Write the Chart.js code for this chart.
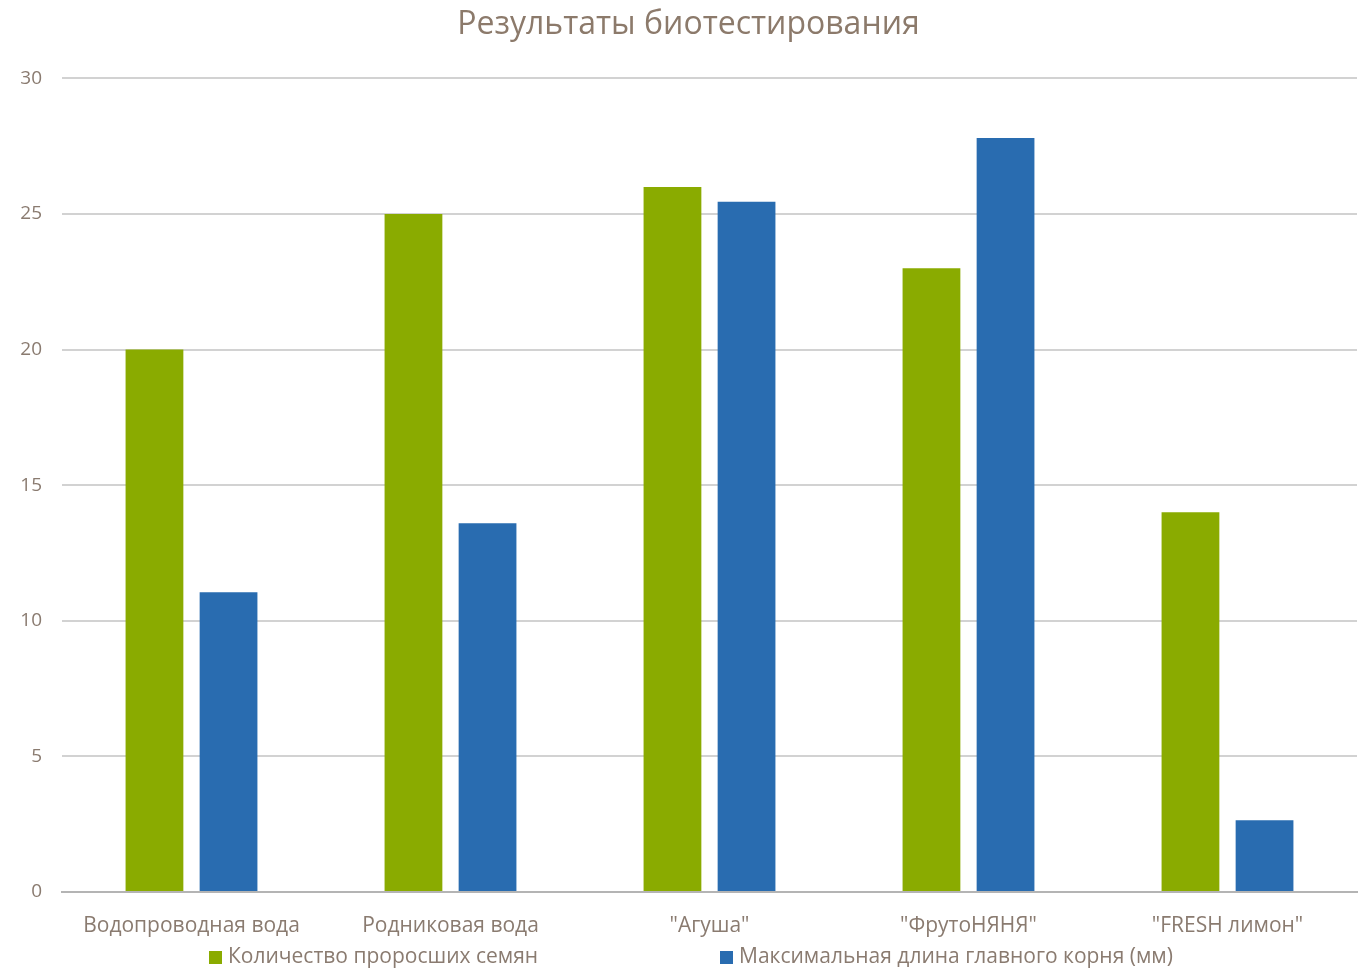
<!DOCTYPE html>
<html><head><meta charset="utf-8">
<script src="https://cdn.jsdelivr.net/npm/chart.js@4.4.0/dist/chart.umd.min.js"></script>
<style>html,body{margin:0;padding:0;background:#fff}#wrap{width:1363px;height:969px}</style>
</head><body><div id="wrap"><canvas id="c"></canvas></div>
<script>
const categories = ['Водопроводная вода', 'Родниковая вода', '"Агуша"', '"ФрутоНЯНЯ"', '"FRESH лимон"'];
const seedsSprouted = [20, 25, 26, 23, 14];
const rootLength = [11.05, 13.6, 25.45, 27.8, 2.65];
const seriesNames = ['Количество проросших семян', 'Максимальная длина главного корня (мм)'];
const yTicks = [0, 5, 10, 15, 20, 25, 30];
const titleText = 'Результаты биотестирования';

const FONT = '"Open Sans", "Noto Sans", sans-serif';
const TEXT = '#8a7b70';
const colors = ['#8aab00', '#296cb0'];

const legendPlugin = {
  id: 'customLegend',
  afterDraw(chart) {
    const ctx = chart.ctx;
    ctx.save();
    ctx.font = '21px ' + FONT;
    ctx.textBaseline = 'middle';
    const y = 957;
    const xs = [209, 720];
    chart.data.datasets.forEach((ds, i) => {
      ctx.fillStyle = ds.backgroundColor;
      ctx.fillRect(xs[i], y - 6, 13, 13);
      ctx.fillStyle = TEXT;
      ctx.textAlign = 'left';
      ctx.fillText(ds.label, xs[i] + 19, y);
    });
    ctx.restore();
  }
};

new Chart(document.getElementById('c'), {
  type: 'bar',
  data: {
    labels: categories,
    datasets: [
      { label: seriesNames[0], data: seedsSprouted, backgroundColor: colors[0], borderWidth: 0 },
      { label: seriesNames[1], data: rootLength, backgroundColor: colors[1], borderWidth: 0 }
    ]
  },
  options: {
    responsive: true,
    maintainAspectRatio: false,
    animation: false,
    devicePixelRatio: 1,
    layout: { padding: { left: 20, right: 6, top: 0, bottom: 22 } },
    datasets: { bar: { categoryPercentage: 0.572, barPercentage: 0.78 } },
    plugins: {
      legend: { display: false },
      tooltip: { enabled: false },
      title: {
        display: true, text: titleText, color: '#8c7a6b',
        font: { family: FONT, size: 32, weight: 'normal' },
        padding: { top: 6, bottom: 34 }
      }
    },
    scales: {
      x: {
        grid: { display: false, drawTicks: false },
        border: { display: true, color: '#b4b4b4', width: 2 },
        ticks: { color: TEXT, font: { family: FONT, size: 21 }, padding: 21, maxRotation: 0, autoSkip: false },
        afterFit(s) { s.height = 55; }
      },
      y: {
        min: 0, max: 30,
        afterBuildTicks(s) { s.ticks = yTicks.map(v => ({ value: v })); },
        grid: { color: '#d2d2d2', lineWidth: 2, drawTicks: false },
        border: { display: false },
        ticks: { color: TEXT, font: { family: FONT, size: 19 }, padding: 20 },
        afterFit(s) { s.width = 42; }
      }
    }
  },
  plugins: [legendPlugin]
});
</script></body></html>
